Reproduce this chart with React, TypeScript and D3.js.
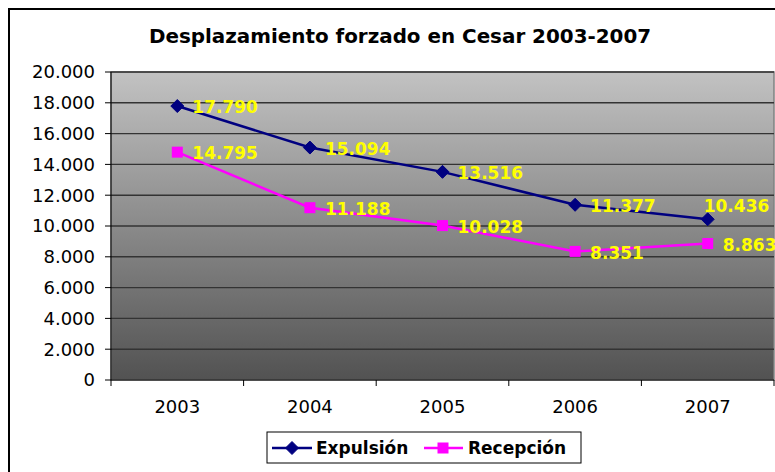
import React from "react";
import * as d3 from "d3";

const years = ["2003", "2004", "2005", "2006", "2007"];
const expulsion = [17790, 15094, 13516, 11377, 10436];
const recepcion = [14795, 11188, 10028, 8351, 8863];
const yTicks = [0, 2000, 4000, 6000, 8000, 10000, 12000, 14000, 16000, 18000, 20000];
const title = "Desplazamiento forzado en Cesar 2003-2007";
const seriesNames = ["Expulsión", "Recepción"];

const W = 775;
const H = 472;
const plot = { x0: 111, x1: 774, y0: 72, y1: 380 };
const FONT = "'DejaVu Sans', Verdana, sans-serif";

const loc = d3.formatLocale({ decimal: ",", thousands: ".", grouping: [3], currency: ["", ""] });
const fmt = loc.format(",d");

export default function App() {
  const x = d3.scaleBand<string>().domain(years).range([plot.x0, plot.x1]).paddingInner(0).paddingOuter(0);
  const y = d3.scaleLinear().domain([0, 20000]).range([plot.y1, plot.y0]);
  const cx = (yr: string) => (x(yr) as number) + x.bandwidth() / 2;
  const line = d3
    .line<number>()
    .x((_, i) => cx(years[i]))
    .y((d) => y(d));

  const diamond = (px: number, py: number, r: number) =>
    `M${px},${py - r}L${px + r},${py}L${px},${py + r}L${px - r},${py}Z`;

  const series = [
    { name: seriesNames[0], values: expulsion, color: "#000080", marker: "diamond" },
    { name: seriesNames[1], values: recepcion, color: "#FF00FF", marker: "square" },
  ];

  const drawMarker = (m: string, px: number, py: number, color: string, key: string) =>
    m === "diamond" ? (
      <path key={key} d={diamond(px, py, 6.5)} fill={color} stroke={color} strokeWidth={1} />
    ) : (
      <rect key={key} x={px - 5.5} y={py - 5.5} width={11} height={11} fill={color} />
    );

  return (
    <svg
      width={W}
      height={H}
      style={{ position: "absolute", left: 0, top: 0, background: "#fff" }}
      fontFamily={FONT}
    >
      <defs>
        <linearGradient id="bg" x1="0" y1="0" x2="0" y2="1">
          <stop offset="0" stopColor="#c2c2c2" />
          <stop offset="1" stopColor="#525252" />
        </linearGradient>
      </defs>
      {/* outer chart border */}
      <rect x={9} y={9} width={820} height={520} fill="none" stroke="#000" strokeWidth={2} />

      <text x={400} y={43} textAnchor="middle" fontSize={19.9} fontWeight="bold" fill="#000">
        {title}
      </text>

      {/* plot area */}
      <rect
        x={plot.x0}
        y={plot.y0}
        width={plot.x1 - plot.x0}
        height={plot.y1 - plot.y0}
        fill="url(#bg)"
        stroke="#808080"
        strokeWidth={1.5}
      />
      {yTicks.map((t) => (
        <g key={t}>
          {t > 0 && (
            <line x1={plot.x0} x2={plot.x1} y1={y(t)} y2={y(t)} stroke="#333" strokeWidth={1.4} />
          )}
          <line x1={plot.x0 - 6} x2={plot.x0} y1={y(t)} y2={y(t)} stroke="#000" strokeWidth={1} />
          <text x={95} y={y(t)} dy="0.36em" textAnchor="end" fontSize={18} fill="#000">
            {fmt(t)}
          </text>
        </g>
      ))}
      {/* axes */}
      <line x1={plot.x0} x2={plot.x0} y1={plot.y0} y2={plot.y1} stroke="#000" strokeWidth={1} />
      <line x1={plot.x0} x2={plot.x1} y1={plot.y1} y2={plot.y1} stroke="#000" strokeWidth={1} />
      {years.map((yr) => (
        <line
          key={"t" + yr}
          x1={x(yr) as number}
          x2={x(yr) as number}
          y1={plot.y1}
          y2={plot.y1 + 6}
          stroke="#000"
          strokeWidth={1}
        />
      ))}
      <line x1={plot.x1} x2={plot.x1} y1={plot.y1} y2={plot.y1 + 6} stroke="#000" strokeWidth={1} />
      {years.map((yr) => (
        <text key={"l" + yr} x={cx(yr)} y={413} textAnchor="middle" fontSize={18} fill="#000">
          {yr}
        </text>
      ))}

      {/* series */}
      {series.map((s) => (
        <g key={s.name}>
          <path d={line(s.values) || ""} fill="none" stroke={s.color} strokeWidth={2.5} />
          {s.values.map((v, i) => drawMarker(s.marker, cx(years[i]), y(v), s.color, s.name + i))}
        </g>
      ))}
      {/* data labels */}
      {series.map((s, si) =>
        s.values.map((v, i) => {
          const special = si === 0 && i === s.values.length - 1;
          return (
            <text
              key={"dl" + si + i}
              x={cx(years[i]) + (special ? -4 : 15)}
              y={y(v) + (special ? -13 : 1)}
              dy="0.36em"
              fontSize={17}
              fontWeight="bold"
              fill="#FFFF00"
            >
              {fmt(v)}
            </text>
          );
        })
      )}

      {/* legend */}
      <rect x={267} y={432} width={314} height={31} fill="#fff" stroke="#000" strokeWidth={1} />
      <line x1={272} x2={312} y1={448} y2={448} stroke="#000080" strokeWidth={2.5} />
      {drawMarker("diamond", 292, 448, "#000080", "lg0")}
      <text x={316} y={448} dy="0.36em" fontSize={17} fontWeight="bold" fill="#000">
        {seriesNames[0]}
      </text>
      <line x1={424} x2={463} y1={448} y2={448} stroke="#FF00FF" strokeWidth={2.5} />
      {drawMarker("square", 443, 448, "#FF00FF", "lg1")}
      <text x={468} y={448} dy="0.36em" fontSize={17} fontWeight="bold" fill="#000">
        {seriesNames[1]}
      </text>
    </svg>
  );
}
